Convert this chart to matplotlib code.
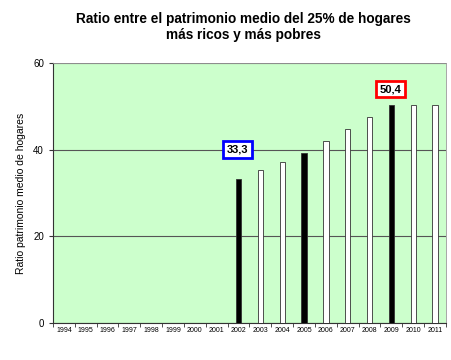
import numpy as np
import matplotlib
matplotlib.use("Agg")
import matplotlib.pyplot as plt

# data
years = ['1994', '1995', '1996', '1997', '1998', '1999', '2000', '2001', '2002',
         '2003', '2004', '2005', '2006', '2007', '2008', '2009', '2010', '2011']
ratio = [np.nan] * 8 + [33.3, 35.3, 37.2, 39.2, 42.0, 44.8, 47.5, 50.4, 50.4, 50.4]
highlight = ['2002', '2005', '2009']
callouts = {'2002': ('33,3', '#0000ff'), '2009': ('50,4', '#ff0000')}

plt.rcParams['font.family'] = ['Liberation Sans', 'DejaVu Sans']

fig = plt.figure(figsize=(4.52, 3.6), dpi=100)
ax = fig.add_axes([53 / 452, 1 - 323 / 360, 393 / 452, 260 / 360])
ax.set_facecolor('#ccffcc')

x = np.arange(len(years))
colors = ['black' if y in highlight else 'white' for y in years]
ax.bar(x, ratio, width=0.24, color=colors, edgecolor='#333333', linewidth=0.6, zorder=3)

for i, y in enumerate(years):
    if y in callouts:
        txt, col = callouts[y]
        ax.text(i - 0.05, ratio[i] + (6.8 if y == '2002' else 3.6), txt,
                ha='center', va='center', fontsize=8, fontweight='bold', zorder=5,
                bbox=dict(boxstyle='square,pad=0.3', facecolor='white', edgecolor=col, linewidth=2))

ax.set_xlim(-0.5, len(years) - 0.5)
ax.set_ylim(0, 60)
ax.set_yticks([0, 20, 40, 60])
ax.set_xticks(x)
ax.set_xticklabels(years, fontsize=5)
ax.set_xticks(np.arange(-0.5, len(years), 1), minor=True)
ax.tick_params(axis='x', which='major', length=0, pad=3)
ax.tick_params(axis='x', which='minor', length=3, direction='out', color='#333333')
ax.tick_params(axis='y', labelsize=7, length=3, direction='out', color='#333333')
ax.yaxis.grid(True, color='#555555', linewidth=0.8, zorder=1)
ax.set_axisbelow(True)
for side in ['top', 'right']:
    ax.spines[side].set_color('#999999')
    ax.spines[side].set_linewidth(0.6)
for side in ['left', 'bottom']:
    ax.spines[side].set_color('#333333')
    ax.spines[side].set_linewidth(0.8)
ax.set_ylabel('Ratio patrimonio medio de hogares', fontsize=7.5, labelpad=5)

fig.text(243 / 452, 0.968, 'Ratio entre el patrimonio medio del 25% de hogares\nmás ricos y más pobres',
         ha='center', va='top', fontsize=9.8, fontweight='bold')

fig.savefig('out.png', dpi=100, facecolor='white')
